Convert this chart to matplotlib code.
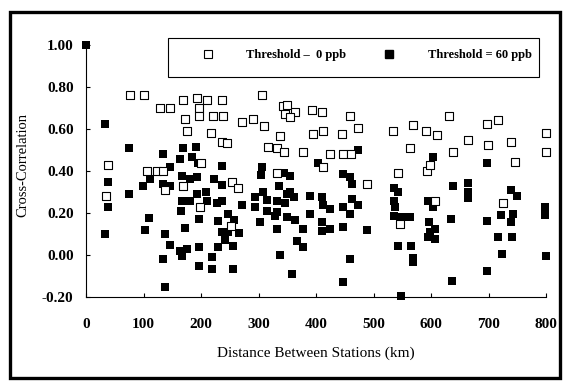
import matplotlib
matplotlib.use('Agg')
from matplotlib import pyplot as plt
from matplotlib.patches import Rectangle
from matplotlib.lines import Line2D
import numpy as np

plt.rcParams['font.family'] = ['Liberation Serif', 'DejaVu Serif']
plt.rcParams['axes.unicode_minus'] = False

# station pairs, threshold = 0 ppb
dist_0 = [35, 38, 77, 101, 129, 146, 169, 193, 210, 237, 197, 172, 197, 221, 238,
          271, 290, 310, 306, 176, 217, 237, 245, 317, 332, 106, 123, 134, 200, 254,
          264, 137, 169, 252, 198, 332, 489, 543, 546, 725, 607, 593, 343, 350, 346,
          363, 355, 393, 410, 337, 344, 377, 459, 395, 412, 445, 473, 534, 569, 591,
          610, 631, 697, 717, 800, 664, 699, 739, 800, 563, 424, 447, 461, 638, 598,
          412, 746]
corr_0 = [0.28, 0.43, 0.76, 0.76, 0.70, 0.70, 0.74, 0.75, 0.74, 0.74, 0.70, 0.65, 0.66, 0.66, 0.66,
          0.635, 0.65, 0.615, 0.76, 0.59, 0.58, 0.54, 0.535, 0.515, 0.51, 0.40, 0.40, 0.40, 0.44, 0.35,
          0.32, 0.31, 0.33, 0.14, 0.23, 0.39, 0.34, 0.39, 0.15, 0.25, 0.255, 0.40, 0.71, 0.715, 0.67,
          0.68, 0.655, 0.69, 0.68, 0.565, 0.49, 0.49, 0.66, 0.575, 0.59, 0.575, 0.605, 0.59, 0.62, 0.59,
          0.57, 0.66, 0.625, 0.645, 0.58, 0.55, 0.525, 0.54, 0.49, 0.51, 0.48, 0.48, 0.48, 0.49, 0.43,
          0.42, 0.445]

# station pairs, threshold = 60 ppb
dist_60 = [0, 33, 38, 38, 33, 75, 75, 99, 111, 103, 110, 134, 146, 134, 146,
           137, 146, 134, 137, 163, 169, 184, 191, 195, 167, 181, 193, 167, 181, 193,
           165, 197, 172, 163, 176, 167, 197, 197, 223, 237, 237, 209, 210, 228, 237,
           230, 247, 257, 237, 247, 266, 242, 230, 256, 219, 219, 256, 271, 306, 304,
           308, 315, 294, 294, 336, 350, 346, 362, 332, 344, 355, 355, 315, 332, 329,
           350, 303, 363, 377, 332, 367, 377, 337, 358, 390, 390, 410, 412, 424, 447,
           463, 473, 459, 410, 410, 424, 447, 403, 447, 459, 463, 473, 459, 447, 489,
           536, 543, 536, 537, 536, 550, 563, 543, 565, 569, 569, 548, 603, 595, 603,
           635, 597, 598, 607, 595, 607, 638, 636, 664, 664, 664, 697, 697, 739, 750,
           722, 743, 739, 717, 741, 723, 697, 798, 798, 800]
corr_60 = [1.00, 0.625, 0.35, 0.23, 0.10, 0.51, 0.29, 0.33, 0.36, 0.12, 0.175, 0.48, 0.42, 0.34, 0.33,
           0.10, 0.05, -0.02, -0.15, 0.455, 0.51, 0.465, 0.515, 0.44, 0.375, 0.36, 0.37, 0.255, 0.255, 0.29,
           0.21, 0.17, 0.13, 0.02, 0.03, -0.005, 0.04, -0.05, 0.36, 0.425, 0.335, 0.30, 0.255, 0.25, 0.255,
           0.16, 0.195, 0.165, 0.11, 0.11, 0.105, 0.07, 0.04, 0.045, -0.01, -0.065, -0.065, 0.24, 0.42, 0.38,
           0.30, 0.26, 0.275, 0.23, 0.33, 0.29, 0.25, 0.275, 0.255, 0.39, 0.375, 0.30, 0.21, 0.205, 0.185,
           0.18, 0.155, 0.165, 0.125, 0.125, 0.065, 0.04, 0.00, -0.09, 0.28, 0.195, 0.275, 0.24, 0.22, 0.23,
           0.265, 0.24, 0.195, 0.155, 0.115, 0.125, 0.135, 0.44, 0.385, 0.37, 0.34, 0.50, -0.02, -0.13, 0.12,
           0.32, 0.30, 0.255, 0.23, 0.185, 0.18, 0.18, 0.045, 0.045, -0.015, -0.035, -0.195, 0.465, 0.255, 0.23,
           0.17, 0.155, 0.11, 0.075, 0.085, 0.125, 0.33, -0.125, 0.30, 0.27, 0.345, 0.44, 0.16, 0.31, 0.28,
           0.19, 0.195, 0.155, 0.085, 0.085, 0.005, -0.075, 0.23, 0.19, -0.005]

labels = ['Threshold \u2013  0 ppb', 'Threshold = 60 ppb']
xticks = [0, 100, 200, 300, 400, 500, 600, 700, 800]
yticks = [-0.20, 0.00, 0.20, 0.40, 0.60, 0.80, 1.00]

W, H = 565, 383
fig = plt.figure(figsize=(W / 100, H / 100), dpi=100)
ax = fig.add_axes([86 / W, 86 / H, 460 / W, 252 / H])

ax.scatter(dist_60, corr_60, marker='s', s=40, color='black', linewidths=0,
           clip_on=False, zorder=3)
ax.scatter(dist_0, corr_0, marker='s', s=34, facecolors='white', edgecolors='black',
           linewidths=0.8, clip_on=False, zorder=4)

ax.set_xlim(0, 800)
ax.set_ylim(-0.2, 1.0)
ax.set_xticks(xticks)
ax.set_xticklabels([str(t) for t in xticks])
ax.set_yticks(yticks)
ax.set_yticklabels(['%.2f' % t for t in yticks])
ax.tick_params(axis='both', direction='in', length=3, width=0.8, labelsize=11)
ax.tick_params(axis='x', pad=15)
ax.tick_params(axis='y', pad=9)
for lab in ax.get_xticklabels() + ax.get_yticklabels():
    lab.set_fontweight('bold')
for side in ['top', 'right']:
    ax.spines[side].set_visible(False)
for side in ['left', 'bottom']:
    ax.spines[side].set_linewidth(0.8)

ax.set_xlabel('Distance Between Stations (km)', fontsize=11)
ax.xaxis.set_label_coords(0.5, -0.222)
ax.xaxis.label.set_va('center')
ax.set_ylabel('Cross-Correlation', fontsize=10.5)
ax.yaxis.set_label_coords(-0.137, 0.524)
ax.yaxis.label.set_va('center')

handles = [Line2D([], [], ls='', marker='s', ms=6, mfc='white', mec='black', mew=0.8),
           Line2D([], [], ls='', marker='s', ms=6.3, mfc='black', mec='black')]
leg = fig.legend(handles, labels, ncol=2, frameon=False, loc='center left',
                 bbox_to_anchor=(195 / W, (H - 55) / H), borderpad=0, borderaxespad=0,
                 handlelength=2, handletextpad=2.1, columnspacing=2.4,
                 prop={'size': 9, 'weight': 'bold'})
fig.add_artist(Rectangle((168 / W, (H - 77) / H), 371 / W, 39 / H, transform=fig.transFigure,
                         fill=False, edgecolor='black', linewidth=0.8))

# outer frame
fig.add_artist(Rectangle((10 / W, (H - 378) / H), 550 / W, 366 / H, transform=fig.transFigure,
                         fill=False, edgecolor='black', linewidth=2.4))

fig.savefig('out.png', dpi=100)
